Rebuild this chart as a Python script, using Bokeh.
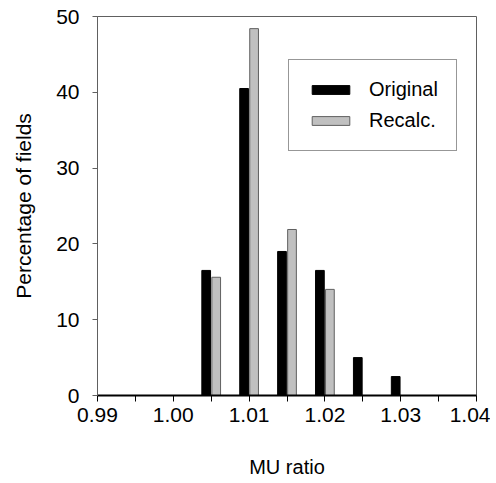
from bokeh.plotting import figure
from bokeh.models import Range1d, FixedTicker, PrintfTickFormatter, ColumnDataSource
from bokeh.transform import dodge
from bokeh.embed import file_html
from bokeh.resources import INLINE

# Data
mu_ratio = [1.005, 1.010, 1.015, 1.020, 1.025, 1.030]
original = [16.5, 40.5, 19.0, 16.5, 5.0, 2.5]
recalc = [15.6, 48.4, 21.9, 14.0, 0.0, 0.0]
x_ticks = [0.99, 1.00, 1.01, 1.02, 1.03, 1.04]
x_minor = [0.995, 1.005, 1.015, 1.025, 1.035]
y_ticks = [0, 10, 20, 30, 40, 50]

FONT = "Liberation Sans"

src = ColumnDataSource(dict(x=mu_ratio, orig=original, rec=recalc))

p = figure(frame_width=379, frame_height=379, output_backend="svg", toolbar_location=None,
           x_range=Range1d(0.99, 1.04), y_range=Range1d(0, 50),
           min_border_left=97, min_border_right=14, min_border_top=16, min_border_bottom=0)
p.xgrid.visible = False
p.ygrid.visible = False
p.outline_line_color = "#606060"
p.outline_line_width = 1
p.background_fill_color = "white"
p.border_fill_color = "white"

bw = 0.00115
p.vbar(x=dodge('x', -0.00066, range=p.x_range), top='orig', width=bw, source=src,
       fill_color="black", line_color="black", legend_label="Original")
p.vbar(x=dodge('x', 0.00066, range=p.x_range), top='rec', width=bw, source=src,
       fill_color="#c0c0c0", line_color="#606060", legend_label="Recalc.")

# X axis
xa = p.xaxis[0]
xa.ticker = FixedTicker(ticks=x_ticks, minor_ticks=x_minor)
xa.formatter = PrintfTickFormatter(format="%.2f")
xa.axis_line_color = "black"
xa.axis_line_width = 2
xa.major_tick_line_color = "black"
xa.minor_tick_line_color = "black"
xa.major_tick_in = 0
xa.major_tick_out = 6
xa.minor_tick_in = 0
xa.minor_tick_out = 6
xa.major_label_text_font = FONT
xa.major_label_text_font_size = "21px"
xa.major_label_text_color = "black"
xa.major_label_standoff = 6
xa.axis_label = "MU ratio"
xa.axis_label_text_font = FONT
xa.axis_label_text_font_size = "20px"
xa.axis_label_text_font_style = "normal"
xa.axis_label_text_color = "black"
xa.axis_label_standoff = 31

# Y axis
ya = p.yaxis[0]
ya.ticker = FixedTicker(ticks=y_ticks, minor_ticks=[])
ya.axis_line_color = "#606060"
ya.major_tick_line_color = "#606060"
ya.major_tick_in = 0
ya.major_tick_out = 5
ya.minor_tick_line_color = None
ya.major_label_text_font = FONT
ya.major_label_text_font_size = "21px"
ya.major_label_text_color = "black"
ya.major_label_standoff = 13
ya.axis_label = "Percentage of fields"
ya.axis_label_text_font = FONT
ya.axis_label_text_font_size = "21px"
ya.axis_label_text_font_style = "normal"
ya.axis_label_text_color = "black"
ya.axis_label_standoff = 18

# Legend
lg = p.legend[0]
lg.location = (191, 244)
lg.border_line_color = "#303030"
lg.border_line_width = 1
lg.background_fill_color = "white"
lg.background_fill_alpha = 1
lg.padding = 18
lg.spacing = 8
lg.margin = 0
lg.glyph_width = 47
lg.glyph_height = 11
lg.label_height = 22
lg.label_standoff = 15
lg.label_text_font = FONT
lg.label_text_font_size = "20px"
lg.label_text_color = "black"

open("out.html", "w").write(file_html(p, INLINE))
